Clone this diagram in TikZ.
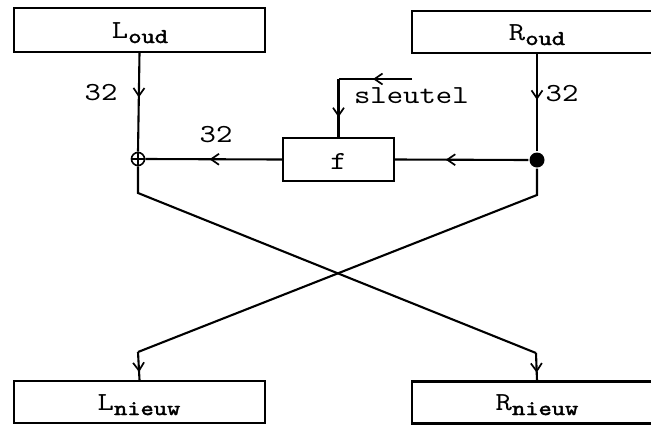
\documentclass[tikz,border=0pt]{standalone}
\usepackage{fontspec}
\setmonofont[FakeStretch=1.2]{lmmono10-regular.otf}
\newfontfamily\subfont[FakeStretch=1.2,FakeBold=2]{lmmono10-regular.otf}
\usetikzlibrary{arrows.meta,decorations.markings}
\newcommand{\bigtt}{\ttfamily\fontsize{26}{28}\selectfont}
\newcommand{\subtt}[1]{\raisebox{-5pt}{\subfont\fontsize{21}{23}\selectfont #1}}
\begin{document}
\begin{tikzpicture}[x=1pt,y=-1pt,line width=2.1pt,
  box/.style={draw,line width=2.2pt,minimum width=251pt,minimum height=43pt,inner sep=0pt},
  fbox/.style={draw,line width=2.2pt,minimum width=111pt,minimum height=43pt,inner sep=0pt,font=\bigtt},
  lbl/.style={font=\bigtt,inner sep=0pt,anchor=base},
  midarr/.style={postaction={decorate},decoration={markings,mark=at position #1 with {\arrow{Straight Barb[length=8pt,width=11pt,line width=1.7pt]}}}}]
\path[use as bounding box,clip] (0,0) rectangle (651,424);
\fill[white] (0,0) rectangle (651,424);
% boxes
\node[box,minimum height=44pt] (lo) at (139.5,30) {};
\node[box,minimum width=250pt,minimum height=42pt] (ro) at (537,32) {};
\node[fbox] (f) at (338.5,159.5) {};
\node[box,minimum height=42pt] (ln) at (139.5,402) {};
\node[box,minimum width=250pt,minimum height=42pt] (rn) at (537,402.5) {};
% box texts
\node[lbl] (tlo) at (140,38) {L\subtt{oud}};
\node[lbl] (tro) at (537,40) {R\subtt{oud}};
\node[lbl] (tf) at (338.5,169) {f};
\node[lbl] (tln) at (139,410) {L\subtt{nieuw}};
\node[lbl] (trn) at (537,410) {R\subtt{nieuw}};
% xor and dot
\node[draw,circle,minimum size=13pt,inner sep=0pt,line width=1.6pt] (xor) at (138,159) {};
\draw[line width=1.6pt] (xor.north) -- (xor.south) (xor.west) -- (xor.east);
\node[fill,circle,minimum size=15pt,inner sep=0pt] (dot) at (537,160) {};
% labels
\node[lbl] (n1) at (101,100) {32};
\node[lbl] (n2) at (216,142) {32};
\node[lbl] (n3) at (562,101) {32};
\node[lbl,anchor=base west] (key) at (353,103) {sleutel};
% coordinates
\coordinate (k) at (412,79);
\coordinate (kc) at (338.5,79);
\coordinate (lk1) at (138,193);
\coordinate (lk2) at (536,353);
\coordinate (rk1) at (537,195);
\coordinate (rk2) at (138,352);
% connectors
\draw[midarr=0.45] (lo.south) -- (xor.north);
\draw[midarr=0.47] (ro.south) -- (dot.north);
\draw[midarr=0.62] (dot.west) -- (f.east);
\draw[midarr=0.53] (f.west) -- (xor.east);
\draw[midarr=0.53] (k) -- (kc);
\draw[midarr=0.66] (kc) -- (f.north);
\draw (xor.south) -- (lk1) -- (lk2);
\draw[midarr=0.72] (lk2) -- (rn.north);
\draw (dot.south) -- (rk1) -- (rk2);
\draw[midarr=0.72] (rk2) -- (ln.north);
\end{tikzpicture}
\end{document}
